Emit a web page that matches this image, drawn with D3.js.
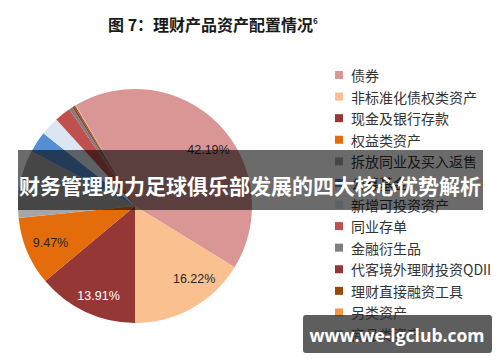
<!DOCTYPE html>
<html>
<head>
<meta charset="utf-8">
<script src="https://cdn.jsdelivr.net/npm/d3@7"></script>
<style>
  html, body { margin: 0; padding: 0; background: #fff; }
  svg { display: block; }
</style>
</head>
<body>
<div id="chart"></div>
<script>
// chart data
const categories = [
    "债券", "非标准化债权类资产", "现金及银行存款", "权益类资产",
    "拆放同业及买入返售", "公募基金", "新增可投资资产", "同业存单",
    "金融衍生品", "代客境外理财投资QDII", "理财直接融资工具", "另类资产", "商品类资产"
];
const shares = [42.19, 16.22, 13.91, 9.47, 9.38, 2.92, 2.58, 2.25, 0.50, 0.25, 0.18, 0.10, 0.05];
const sliceLabels = ["42.19%", "16.22%", "13.91%", "9.47%", "", "", "", "", "", "", "", "", ""];

const palette = [
    "#d99694", "#fac090", "#953735", "#e46c0a",
    "#a6a6a6", "#558ed5", "#dce6f2", "#c0504d",
    "#7f7f7f", "#943634", "#984807", "#f79646", "#95b3d7"
];
const labelColors = ["#262626", "#262626", "#ffffff", "#262626"];
// excel "best fit" shifts some labels off the slice middle (degrees, radius share)
const labelTurn = [7, -10, -3, -1];
const labelRadius = [0.79, 0.8, 0.83, 0.79];

const titleText = "图 7：理财产品资产配置情况";
const bannerText = "财务管理助力足球俱乐部发展的四大核心优势解析";
const watermarkText = "www.we-lgclub.com";

const W = 500, H = 362;
const cx = 135, cy = 206, R = 117;

const svg = d3.select("#chart").append("svg")
    .attr("width", W)
    .attr("height", H);

// title
const title = svg.append("text")
    .attr("x", 108)
    .attr("y", 31)
    .attr("font-family", "'Noto Sans CJK SC', sans-serif")
    .attr("font-weight", 700)
    .attr("font-size", 16)
    .attr("fill", "#1a1a1a")
    .text(titleText);
title.append("tspan")
    .attr("font-size", 8)
    .attr("dy", -7)
    .text("6");

// pie - first two slices end at six o'clock
const total = d3.sum(shares);
const start = Math.PI - (shares[0] + shares[1]) / total * 2 * Math.PI;

const pie = d3.pie()
    .sort(null)
    .value(d => d)
    .startAngle(start)
    .endAngle(start + 2 * Math.PI);

const arcs = pie(shares);
const arc = d3.arc().innerRadius(0).outerRadius(R);

const g = svg.append("g")
    .attr("transform", "translate(" + cx + "," + cy + ")");

g.selectAll("path")
    .data(arcs)
    .enter()
    .append("path")
    .attr("d", arc)
    .attr("fill", (d, i) => palette[i]);

function labelPos(d, i) {
    const turn = (labelTurn[i] || 0) * Math.PI / 180;
    const r = R * (labelRadius[i] || 0.8);
    const a = (d.startAngle + d.endAngle) / 2 + turn;
    return d3.arc().innerRadius(r).outerRadius(r)
        .centroid({ startAngle: a, endAngle: a });
}

g.selectAll(".lbl")
    .data(arcs)
    .enter()
    .append("text")
    .attr("class", "lbl")
    .attr("transform", (d, i) => "translate(" + labelPos(d, i) + ")")
    .attr("text-anchor", "middle")
    .attr("dominant-baseline", "central")
    .attr("font-family", "'Liberation Sans', Arial, sans-serif")
    .attr("font-size", 12.5)
    .attr("fill", (d, i) => labelColors[i] || "#262626")
    .text((d, i) => sliceLabels[i]);

// legend
const legendY = d3.scalePoint()
    .domain(categories)
    .range([75, 334]);

const legend = svg.append("g");
const items = legend.selectAll("g")
    .data(categories)
    .enter()
    .append("g")
    .attr("transform", d => "translate(335," + legendY(d) + ")");

items.append("rect")
    .attr("x", 0)
    .attr("y", -4)
    .attr("width", 8)
    .attr("height", 8)
    .attr("fill", (d, i) => palette[i]);

items.append("text")
    .attr("x", 16)
    .attr("y", 0)
    .attr("dominant-baseline", "central")
    .attr("font-family", "'Noto Sans CJK SC', sans-serif")
    .attr("font-size", 14)
    .attr("fill", "#333333")
    .text(d => d);

// banner over the middle
svg.append("rect")
    .attr("x", 18)
    .attr("y", 150)
    .attr("width", 465)
    .attr("height", 60)
    .attr("fill", "rgba(0,0,0,0.58)");

svg.append("text")
    .attr("x", 250)
    .attr("y", 185)
    .attr("text-anchor", "middle")
    .attr("dominant-baseline", "central")
    .attr("font-family", "'Noto Sans CJK SC', sans-serif")
    .attr("font-weight", 700)
    .attr("font-size", 21)
    .attr("fill", "#ffffff")
    .text(bannerText);

// watermark
svg.append("rect")
    .attr("x", 303)
    .attr("y", 315)
    .attr("width", 189)
    .attr("height", 38)
    .attr("rx", 3)
    .attr("fill", "rgba(40,40,40,0.75)");

svg.append("text")
    .attr("x", 397)
    .attr("y", 335)
    .attr("text-anchor", "middle")
    .attr("dominant-baseline", "central")
    .attr("font-family", "'Open Sans', 'DejaVu Sans', sans-serif")
    .attr("font-weight", 700)
    .attr("font-size", 17.5)
    .attr("fill", "#ffffff")
    .text(watermarkText);
</script>
</body>
</html>
